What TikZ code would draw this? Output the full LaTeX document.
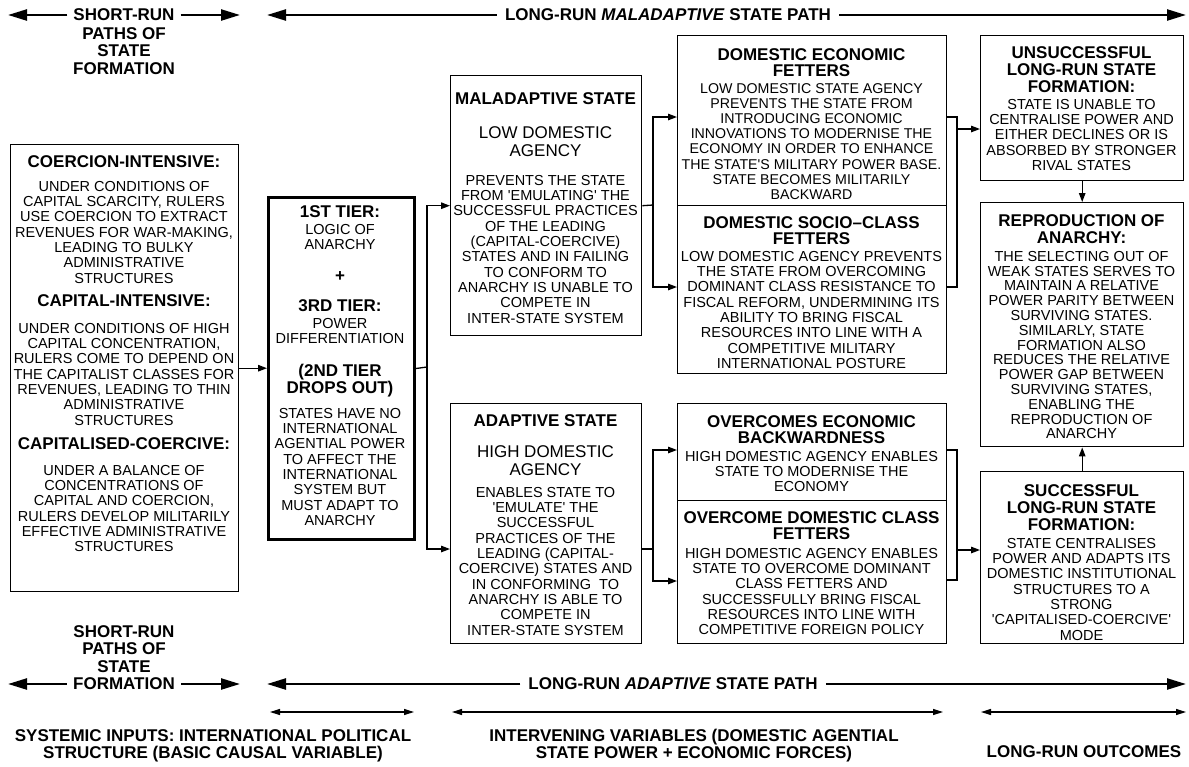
\documentclass[tikz,border=0pt]{standalone}
\usepackage{fontspec}
\setmainfont{Liberation Sans}[Ligatures=TeXOff]
\usetikzlibrary{arrows.meta}
\begin{document}
\begin{tikzpicture}[x=1pt,y=-1pt,
  box/.style={draw, line width=1.4pt, inner sep=0pt, anchor=north west},
  tbox/.style={box, line width=3pt},
  hd/.style={font=\bfseries\fontsize{17}{17}\selectfont, align=center, inner sep=0pt, anchor=north},
  bd/.style={font=\fontsize{14.5}{15.3}\selectfont, align=center, inner sep=0pt, anchor=north},
  bds/.style={bd, font=\fontsize{14.2}{15.2}\selectfont},
  bdr/.style={bd, font=\fontsize{14.5}{14.8}\selectfont},
  lg/.style={font=\fontsize{17}{18}\selectfont, align=center, inner sep=0pt, anchor=north},
  lab/.style={font=\bfseries\fontsize{17}{17.7}\selectfont, align=center, inner sep=0pt},
  labb/.style={lab, font=\bfseries\fontsize{17}{17}\selectfont},
  con/.style={line width=1.3pt},
  arr/.style={line width=1.3pt, -{Triangle[length=9pt,width=6.5pt]}},
  bigarr/.style={line width=2.3pt, -{Triangle[length=19pt,width=11pt]}},
  smallarr/.style={line width=1.2pt, {Triangle[length=10pt,width=6pt]}-{Triangle[length=10pt,width=6pt]}},
]
\useasboundingbox (0,0) rectangle (1189,766);

% ---------- boxes ----------
\node[box, minimum width=228pt, minimum height=447pt] (left) at (10,144) {};
\node[tbox, minimum width=146pt, minimum height=342pt] (tier) at (267,196) {};
\node[box, minimum width=191pt, minimum height=260pt] (mal) at (450,75) {};
\node[box, minimum width=191pt, minimum height=240pt] (ada) at (450,403) {};
\node[box, minimum width=269pt, minimum height=170pt] (econ) at (677,35) {};
\node[box, minimum width=269pt, minimum height=168pt] (socio) at (677,205) {};
\node[box, minimum width=269pt, minimum height=97pt] (ovec) at (677,403) {};
\node[box, minimum width=269pt, minimum height=143pt] (ovcl) at (677,500) {};
\node[box, minimum width=203pt, minimum height=145pt] (unsucc) at (980,35) {};
\node[box, minimum width=203pt, minimum height=244pt] (repro) at (980,202) {};
\node[box, minimum width=203pt, minimum height=172pt] (succ) at (980,471) {};

% ---------- left box ----------
\node[hd] (l1) at (124,155) {COERCION-INTENSIVE:};
\node[bd] (l2) at (124,181) {UNDER CONDITIONS OF\\CAPITAL SCARCITY, RULERS\\USE COERCION TO EXTRACT\\REVENUES FOR WAR-MAKING,\\LEADING TO BULKY\\ADMINISTRATIVE\\STRUCTURES};
\node[hd] (l3) at (124,294) {CAPITAL-INTENSIVE:};
\node[bd] (l4) at (124,323) {UNDER CONDITIONS OF HIGH\\CAPITAL CONCENTRATION,\\RULERS COME TO DEPEND ON\\THE CAPITALIST CLASSES FOR\\REVENUES, LEADING TO THIN\\ADMINISTRATIVE\\STRUCTURES};
\node[hd] (l5) at (124,437) {CAPITALISED-COERCIVE:};
\node[bd] (l6) at (124,465) {UNDER A BALANCE OF\\CONCENTRATIONS OF\\CAPITAL AND COERCION,\\RULERS DEVELOP MILITARILY\\EFFECTIVE ADMINISTRATIVE\\STRUCTURES};

% ---------- tier box ----------
\node[hd] (t1) at (340,205) {1ST TIER:};
\node[bd] (t2) at (340,224) {LOGIC OF\\ANARCHY};
\node[hd, anchor=center] (t3) at (340,277) {+};
\node[hd] (t4) at (340,299) {3RD TIER:};
\node[bd] (t5) at (340,318) {POWER\\DIFFERENTIATION};
\node[hd] (t6) at (340,364) {(2ND TIER\\DROPS OUT)};
\node[bd] (t7) at (340,408) {STATES HAVE NO\\INTERNATIONAL\\AGENTIAL POWER\\TO AFFECT THE\\INTERNATIONAL\\SYSTEM BUT\\MUST ADAPT TO\\ANARCHY};

% ---------- maladaptive / adaptive ----------
\node[hd] (m1) at (545.5,92) {MALADAPTIVE STATE};
\node[lg] (m2) at (545.5,126) {LOW DOMESTIC\\AGENCY};
\node[bd] (m3) at (545.5,175) {PREVENTS THE STATE\\FROM 'EMULATING' THE\\SUCCESSFUL PRACTICES\\OF THE LEADING\\(CAPITAL-COERCIVE)\\STATES AND IN FAILING\\TO CONFORM TO\\ANARCHY IS UNABLE TO\\COMPETE IN\\INTER-STATE SYSTEM};
\node[hd] (a1) at (545.5,414) {ADAPTIVE STATE};
\node[lg] (a2) at (545.5,445) {HIGH DOMESTIC\\AGENCY};
\node[bd] (a3) at (545.5,487) {ENABLES STATE TO\\'EMULATE' THE\\SUCCESSFUL\\PRACTICES OF THE\\LEADING (CAPITAL-\\COERCIVE) STATES AND\\IN CONFORMING\ \ TO\\ANARCHY IS ABLE TO\\COMPETE IN\\INTER-STATE SYSTEM};

% ---------- fetters ----------
\node[hd, font=\bfseries\fontsize{17}{16.5}\selectfont] (e1) at (811.5,48) {DOMESTIC ECONOMIC\\FETTERS};
\node[bds] (e2) at (811.5,83) {LOW DOMESTIC STATE AGENCY\\PREVENTS THE STATE FROM\\INTRODUCING ECONOMIC\\INNOVATIONS TO MODERNISE THE\\ECONOMY IN ORDER TO ENHANCE\\THE STATE'S MILITARY POWER BASE.\\STATE BECOMES MILITARILY\\BACKWARD};
\node[hd, font=\bfseries\fontsize{17}{16.5}\selectfont] (s1) at (811.5,216) {DOMESTIC SOCIO–CLASS\\FETTERS};
\node[bd] (s2) at (811.5,251) {LOW DOMESTIC AGENCY PREVENTS\\THE STATE FROM OVERCOMING\\DOMINANT CLASS RESISTANCE TO\\FISCAL REFORM, UNDERMINING ITS\\ABILITY TO BRING FISCAL\\RESOURCES INTO LINE WITH A\\COMPETITIVE MILITARY\\INTERNATIONAL POSTURE};
\node[hd, font=\bfseries\fontsize{17}{16.5}\selectfont] (o1) at (811.5,415) {OVERCOMES ECONOMIC\\BACKWARDNESS};
\node[bd] (o2) at (811.5,451) {HIGH DOMESTIC AGENCY ENABLES\\STATE TO MODERNISE THE\\ECONOMY};
\node[hd, font=\bfseries\fontsize{17}{16.5}\selectfont] (c1) at (811.5,511) {OVERCOME DOMESTIC CLASS\\FETTERS};
\node[bd] (c2) at (811.5,548) {HIGH DOMESTIC AGENCY ENABLES\\STATE TO OVERCOME DOMINANT\\CLASS FETTERS AND\\SUCCESSFULLY BRING FISCAL\\RESOURCES INTO LINE WITH\\COMPETITIVE FOREIGN POLICY};

% ---------- outcomes ----------
\node[hd] (u1) at (1081.5,46) {UNSUCCESSFUL\\LONG-RUN STATE\\FORMATION:};
\node[bd] (u2) at (1081.5,99) {STATE IS UNABLE TO\\CENTRALISE POWER AND\\EITHER DECLINES OR IS\\ABSORBED BY STRONGER\\RIVAL STATES};
\node[hd] (r1) at (1081.5,214) {REPRODUCTION OF\\ANARCHY:};
\node[bdr] (r2) at (1081.5,251) {THE SELECTING OUT OF\\WEAK STATES SERVES TO\\MAINTAIN A RELATIVE\\POWER PARITY BETWEEN\\SURVIVING STATES.\\SIMILARLY, STATE\\FORMATION ALSO\\REDUCES THE RELATIVE\\POWER GAP BETWEEN\\SURVIVING STATES,\\ENABLING THE\\REPRODUCTION OF\\ANARCHY};
\node[hd] (g1) at (1081.5,484) {SUCCESSFUL\\LONG-RUN STATE\\FORMATION:};
\node[bd] (g2) at (1081.5,538) {STATE CENTRALISES\\POWER AND ADAPTS ITS\\DOMESTIC INSTITUTIONAL\\STRUCTURES TO A\\STRONG\\'CAPITALISED-COERCIVE'\\MODE};

% ---------- connectors ----------
\coordinate (y117) at (0,117);
\coordinate (y287) at (0,287);
\coordinate (y448) at (0,450);
\coordinate (y549) at (0,549);
\coordinate (y581) at (0,581);
\coordinate (y580) at (0,580);

\draw[arr] (left.east) -- (left.east -| tier.west);
\coordinate (j1) at (427,367);
\draw[con] (tier.east) -- (j1);
\draw[arr] (j1) |- (mal.west);
\draw[arr] (j1) |- (ada.west |- y549);

\coordinate (j2) at (653,205);
\draw[con] (mal.east) -- (j2);
\draw[arr] (j2) |- (econ.west |- y117);
\draw[arr] (j2) |- (socio.west |- y287);

\coordinate (j3) at (653,549);
\draw[con] (ada.east |- j3) -- (j3);
\draw[arr] (j3) |- (ovec.west |- y448);
\draw[arr] (j3) |- (ovcl.west |- y581);

\coordinate (j4) at (957,129);
\draw[con] (econ.east |- y117) -| (j4 |- y287) -- (socio.east |- y287);
\draw[arr] (j4) -- (unsucc.west |- j4);

\coordinate (j5) at (957,550);
\draw[con] (ovec.east |- y448) -| (j5 |- y580) -- (ovcl.east |- y580);
\draw[arr] (j5) -- (succ.west |- j5);

\draw[arr] (unsucc.south) -- (repro.north);
\draw[arr] (succ.north) -- (repro.south);

% ---------- top labels ----------
\node[lab] (sr1) at (124,15) {SHORT-RUN};
\node[lab, anchor=north] (sr2) at (124,27) {PATHS OF\\STATE\\FORMATION};
\coordinate (srL) at (8,15);
\coordinate (srR) at (240,15);
\draw[bigarr] ([xshift=-6pt]sr1.west) -- (srL);
\draw[bigarr] ([xshift=6pt]sr1.east) -- (srR);

\node[lab] (lr1) at (668,15) {LONG-RUN \textit{MALADAPTIVE} STATE PATH};
\coordinate (lrL) at (267,15);
\coordinate (lrR) at (1186,15);
\draw[bigarr] ([xshift=-8pt]lr1.west) -- (lrL);
\draw[bigarr] ([xshift=8pt]lr1.east) -- (lrR);

% ---------- bottom labels ----------
\node[lab, anchor=north] (sb1) at (124,625) {SHORT-RUN\\PATHS OF\\STATE};
\node[lab] (sb2) at (124,684) {FORMATION};
\coordinate (sbL) at (8,684);
\coordinate (sbR) at (240,684);
\draw[bigarr] ([xshift=-6pt]sb2.west) -- (sbL);
\draw[bigarr] ([xshift=6pt]sb2.east) -- (sbR);

\node[lab] (la1) at (673,684) {LONG-RUN \textit{ADAPTIVE} STATE PATH};
\coordinate (laL) at (267,684);
\coordinate (laR) at (1186,684);
\draw[bigarr] ([xshift=-8pt]la1.west) -- (laL);
\draw[bigarr] ([xshift=8pt]la1.east) -- (laR);

\coordinate (s1a) at (270,712); \coordinate (s1b) at (414,712);
\coordinate (s2a) at (452,712); \coordinate (s2b) at (943,712);
\coordinate (s3a) at (981,712); \coordinate (s3b) at (1186,712);
\draw[smallarr] (s1a) -- (s1b);
\draw[smallarr] (s2a) -- (s2b);
\draw[smallarr] (s3a) -- (s3b);

\node[labb, anchor=north] (sys) at (213,729) {SYSTEMIC INPUTS: INTERNATIONAL POLITICAL\\STRUCTURE (BASIC CAUSAL VARIABLE)};
\node[labb, anchor=north] (int) at (694,729) {INTERVENING VARIABLES (DOMESTIC AGENTIAL\\STATE POWER + ECONOMIC FORCES)};
\node[labb] (out) at (1084,752) {LONG-RUN OUTCOMES};
\end{tikzpicture}
\end{document}
